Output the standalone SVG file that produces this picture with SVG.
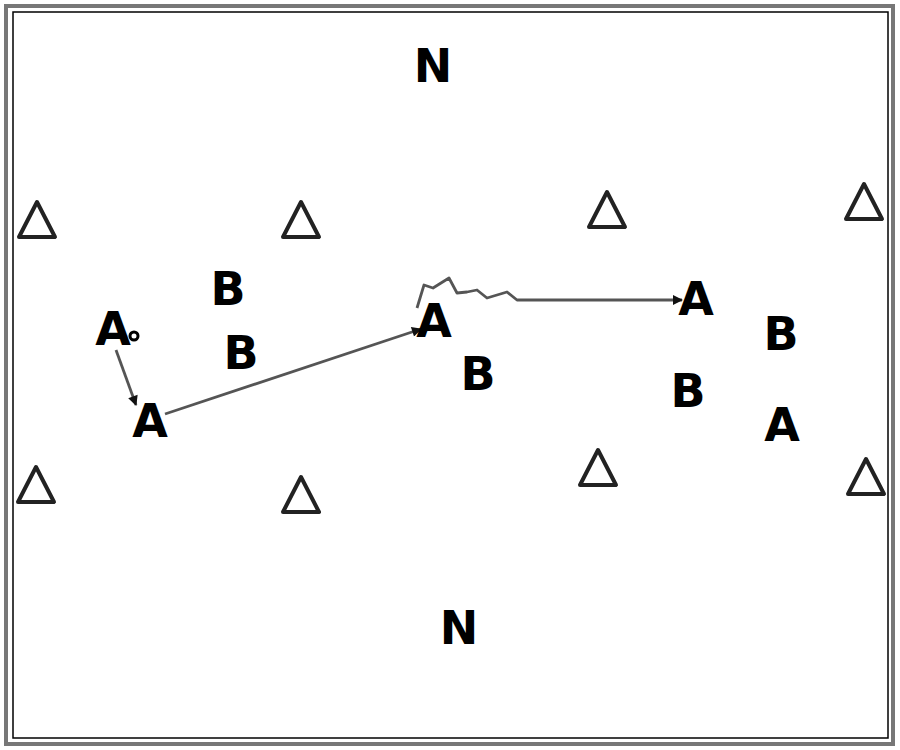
<svg xmlns="http://www.w3.org/2000/svg" width="900" height="750" viewBox="0 0 900 750">
<style>
.t{font-family:"DejaVu Sans","Liberation Sans",sans-serif;font-weight:bold;font-size:46px;fill:#000;text-anchor:middle}
.tri{fill:none;stroke:#222;stroke-width:4;stroke-linejoin:round}
.c{fill:none;stroke:#555;stroke-width:2.8;stroke-linejoin:round}
</style>
<defs>
<marker id="ah" viewBox="0 0 10 10" refX="9" refY="5" markerWidth="12" markerHeight="10" orient="auto" markerUnits="userSpaceOnUse">
<path d="M0,0 L10,5 L0,10 z" fill="#111"/>
</marker>
<path id="tr" d="M0,-19 L18,16 L-18,16 Z"/>
</defs>
<rect width="900" height="750" fill="#fff"/>
<rect x="6" y="6" width="887" height="738" fill="none" stroke="#777" stroke-width="4"/>
<rect x="13" y="12" width="875" height="726" fill="none" stroke="#000" stroke-width="1.5"/>
<g id="connectors">
<line class="c" x1="116" y1="350" x2="136" y2="405" marker-end="url(#ah)"/>
<line class="c" x1="165" y1="414" x2="421" y2="329" marker-end="url(#ah)"/>
<polyline class="c" points="417,308 424,285 433,288 449,278 457,293 467,292 477,290 487,298 497,295 507,292 517,300 530,300 682,300" marker-end="url(#ah)"/>
</g>
<g id="n-top"><text class="t" x="433" y="82">N</text></g>
<g id="n-bottom"><text class="t" x="459" y="644">N</text></g>
<g id="cone1"><use href="#tr" class="tri" x="37" y="221"/></g>
<g id="cone2"><use href="#tr" class="tri" x="301" y="221"/></g>
<g id="cone3"><use href="#tr" class="tri" x="607" y="211"/></g>
<g id="cone4"><use href="#tr" class="tri" x="864" y="203"/></g>
<g id="cone5"><use href="#tr" class="tri" x="36" y="486"/></g>
<g id="cone6"><use href="#tr" class="tri" x="301" y="496"/></g>
<g id="cone7"><use href="#tr" class="tri" x="598" y="469"/></g>
<g id="cone8"><use href="#tr" class="tri" x="866" y="478"/></g>
<g id="b1"><text class="t" x="228" y="305">B</text></g>
<g id="b2"><text class="t" x="241" y="369">B</text></g>
<g id="b3"><text class="t" x="478" y="390">B</text></g>
<g id="b4"><text class="t" x="781" y="350">B</text></g>
<g id="b5"><text class="t" x="688" y="407">B</text></g>
<g id="a0"><text class="t" x="113" y="345">A</text><circle cx="134" cy="336" r="4" fill="none" stroke="#000" stroke-width="3"/></g>
<g id="a1"><text class="t" x="150" y="437">A</text></g>
<g id="a2"><text class="t" x="434" y="337">A</text></g>
<g id="a3"><text class="t" x="696" y="315">A</text></g>
<g id="a4"><text class="t" x="782" y="441">A</text></g>
</svg>
